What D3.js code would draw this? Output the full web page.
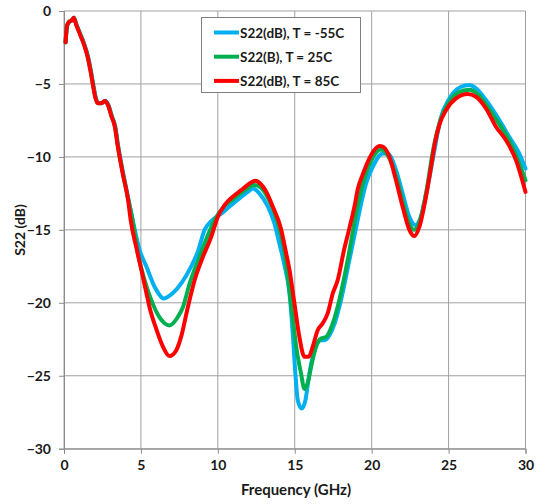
<!DOCTYPE html>
<html>
<head>
<meta charset="utf-8">
<script src="https://cdn.jsdelivr.net/npm/d3@7"></script>
<style>
  body { margin: 0; background: #fff; }
  text { font-family: Lato, "Open Sans", sans-serif; font-weight: bold; fill: #1a1a1a; }
</style>
</head>
<body>
<svg id="vis-svg"></svg>
<script>
// values
var seriesNames = ["S22(dB), T = -55C", "S22(B), T = 25C", "S22(dB), T = 85C"];
var seriesColors = ["#00B0F0", "#00B050", "#FF0000"];

var freqM55 = [0.1, 0.2, 0.35, 0.5, 0.65, 0.82, 1.03, 1.33, 1.58, 1.76, 1.91, 2.07, 2.23, 2.46, 2.67, 2.89, 3.11, 3.33,
  3.53, 3.86, 4.19, 4.5, 4.92, 5.35, 5.89, 6.2, 6.45, 7.08, 7.69, 8.27, 8.7, 9.14, 9.57, 10.22, 10.76, 11.4, 11.95, 12.27,
  12.7, 13.25, 13.68, 14.0, 14.35, 14.66, 14.87, 15.04, 15.2, 15.45, 15.69, 15.95, 16.28, 16.6, 16.93, 17.27, 17.6, 18.01,
  18.55, 19.09, 19.4, 19.64, 20.07, 20.72, 21.04, 21.58, 22.01, 22.45, 22.84, 23.2, 23.64, 24.07, 24.5, 25.0, 25.27, 25.81,
  26.35, 26.78, 27.43, 28.3, 28.94, 29.59, 30.0];
var s22M55 = [-2.15, -1.0, -0.72, -0.65, -0.46, -0.96, -1.5, -2.3, -3.2, -4.16, -5.07, -5.95, -6.3, -6.3, -6.15, -6.45, -7.2, -7.9,
  -9.3, -11.2, -12.9, -14.5, -16.4, -17.5, -18.9, -19.45, -19.7, -19.32, -18.56, -17.5, -16.5, -15.0, -14.4, -13.9, -13.4, -12.85, -12.4, -12.16,
  -12.5, -13.4, -14.56, -15.93, -17.5, -19.36, -22.1, -24.85, -26.7, -27.25, -26.7, -24.85, -23.25, -22.56, -22.56, -22.2, -21.4, -19.8,
  -17.08, -14.33, -12.8, -11.8, -10.68, -9.76, -9.76, -10.9, -12.5, -14.1, -14.68, -14.1, -12.05, -9.6, -7.3, -6.1, -5.65, -5.19,
  -5.07, -5.3, -6.1, -7.48, -8.62, -9.76, -10.8];

var freq25 = [0.1, 0.2, 0.35, 0.5, 0.64, 0.81, 1.01, 1.31, 1.56, 1.74, 1.89, 2.05, 2.21, 2.44, 2.65, 2.87, 3.09, 3.31,
  3.51, 3.84, 4.17, 4.45, 4.8, 5.2, 5.67, 6.21, 6.86, 7.4, 7.73, 8.16, 8.81, 9.3, 9.8, 10.4, 11.0, 11.6, 12.38, 12.8,
  13.3, 13.8, 14.3, 14.83, 15.13, 15.41, 15.63, 15.84, 16.06, 16.39, 16.71, 17.04, 17.47, 17.9, 18.44, 18.99, 19.5, 20.0,
  20.6, 21.1, 21.6, 22.0, 22.45, 22.77, 23.1, 23.55, 24.0, 24.5, 25.0, 25.6, 26.35, 26.9, 27.5, 28.2, 28.8, 29.4, 30.0];
var s2225 = [-2.15, -1.0, -0.72, -0.65, -0.46, -0.96, -1.5, -2.3, -3.2, -4.16, -5.07, -5.95, -6.33, -6.33, -6.17, -6.45, -7.2, -7.9,
  -9.3, -11.2, -12.9, -14.3, -16.6, -18.3, -19.8, -21.0, -21.55, -20.97, -20.3, -18.7, -16.85, -15.5, -14.3, -13.4, -12.9, -12.4, -11.93, -12.1,
  -12.9, -14.2, -16.3, -20.73, -23.25, -24.85, -25.9, -25.5, -24.4, -23.0, -22.45, -22.34, -21.42, -19.8, -17.08, -13.9, -11.6, -10.2,
  -9.5, -10.0, -11.4, -13.0, -14.6, -15.0, -14.5, -12.4, -9.5, -7.4, -6.3, -5.6, -5.39, -5.7, -6.5, -7.6, -8.6, -9.9, -11.6];

var freq85 = [0.1, 0.2, 0.35, 0.5, 0.63, 0.8, 1.0, 1.3, 1.55, 1.73, 1.88, 2.04, 2.2, 2.43, 2.64, 2.86, 3.08, 3.3,
  3.5, 3.83, 4.16, 4.33, 4.7, 5.02, 5.35, 5.56, 6.0, 6.43, 6.86, 7.3, 7.62, 8.05, 8.49, 9.03, 9.57, 10.0, 10.44, 10.97,
  11.52, 12.06, 12.45, 12.71, 13.2, 13.57, 14.1, 14.44, 14.66, 14.98, 15.3, 15.63, 15.91, 16.17, 16.49, 16.82, 17.14, 17.47,
  17.79, 18.2, 18.55, 18.9, 19.1, 19.42, 19.96, 20.5, 20.72, 21.15, 21.58, 22.01, 22.45, 22.77, 23.1, 23.53, 23.86, 24.1,
  24.4, 24.84, 25.48, 26.23, 26.78, 27.43, 28.08, 28.73, 29.38, 30.0];
var s2285 = [-2.15, -1.0, -0.72, -0.65, -0.46, -0.96, -1.5, -2.3, -3.2, -4.16, -5.07, -5.95, -6.33, -6.33, -6.17, -6.45, -7.2, -7.9,
  -9.3, -11.2, -12.9, -14.3, -16.2, -17.7, -19.3, -20.3, -21.8, -23.0, -23.65, -23.25, -22.3, -20.3, -18.45, -16.85, -15.48, -14.1, -13.3, -12.73,
  -12.28, -11.82, -11.64, -11.78, -12.5, -13.4, -14.9, -16.6, -17.76, -20.05, -22.34, -23.7, -23.7, -23.0, -21.88, -21.4, -20.73, -19.36,
  -18.45, -16.4, -14.9, -13.3, -12.2, -11.2, -9.88, -9.26, -9.3, -9.99, -11.6, -13.4, -15.0, -15.43, -14.8, -12.73, -10.68, -9.1,
  -7.8, -6.79, -5.99, -5.69, -5.88, -6.67, -7.93, -8.85, -10.22, -12.4];

var xTicks = [0, 5, 10, 15, 20, 25, 30];
var yTicks = [0, -5, -10, -15, -20, -25, -30];

var width = 545;
var height = 504;
var margin = { top: 11, right: 20, bottom: 55, left: 64 };

var svg = d3.select('#vis-svg')
  .attr('width', width)
  .attr('height', height);

var xScale = d3.scaleLinear()
  .domain([0, 30])
  .range([margin.left, 525.5]);

var yScale = d3.scaleLinear()
  .domain([-30, 0])
  .range([448.7, margin.top]);

// grid
svg.append('g').selectAll('line')
  .data(xTicks)
  .enter()
  .append('line')
  .attr('x1', function(d){return xScale(d);})
  .attr('x2', function(d){return xScale(d);})
  .attr('y1', yScale(0))
  .attr('y2', yScale(-30))
  .attr('stroke', '#a0a0a0')
  .attr('stroke-width', 1);

svg.append('g').selectAll('line')
  .data(yTicks)
  .enter()
  .append('line')
  .attr('x1', xScale(0))
  .attr('x2', xScale(30))
  .attr('y1', function(d){return yScale(d);})
  .attr('y2', function(d){return yScale(d);})
  .attr('stroke', '#a0a0a0')
  .attr('stroke-width', 1);

// axes
var xAxis = svg.append('g')
  .attr('transform', `translate(0,${yScale(-30)})`)
  .call(d3.axisBottom(xScale).tickValues(xTicks).tickSize(5).tickPadding(6));

var yAxis = svg.append('g')
  .attr('transform', `translate(${xScale(0)},0)`)
  .call(d3.axisLeft(yScale).tickValues(yTicks).tickSize(5).tickPadding(8));

[xAxis, yAxis].forEach(function(a) {
  a.select('.domain').attr('stroke', '#8c8c8c');
  a.selectAll('.tick line').attr('stroke', '#8c8c8c');
  a.selectAll('.tick text')
    .style('font-family', 'Lato, "Open Sans", sans-serif')
    .style('font-weight', 'bold')
    .style('font-size', '14px')
    .attr('fill', '#1a1a1a');
});

// axis titles
svg.append('text')
  .attr('x', 296)
  .attr('y', 495)
  .attr('text-anchor', 'middle')
  .style('font-size', '15px')
  .text('Frequency (GHz)');

svg.append('text')
  .attr('transform', 'translate(25,230) rotate(-90)')
  .attr('text-anchor', 'middle')
  .style('font-size', '14px')
  .text('S22 (dB)');

// curves
var series = [
  { name: seriesNames[0], color: seriesColors[0], f: freqM55, v: s22M55 },
  { name: seriesNames[1], color: seriesColors[1], f: freq25, v: s2225 },
  { name: seriesNames[2], color: seriesColors[2], f: freq85, v: s2285 }
];

var line = d3.line()
  .x(function(d){return xScale(d[0]);})
  .y(function(d){return yScale(d[1]);})
  .curve(d3.curveMonotoneX);

series.forEach(function(s) {
  svg.append('path')
    .datum(d3.zip(s.f, s.v))
    .attr('d', line)
    .attr('fill', 'none')
    .attr('stroke', s.color)
    .attr('stroke-width', 4)
    .attr('stroke-linejoin', 'round')
    .attr('stroke-linecap', 'round');
});

// legend
var legend = svg.append('g');
legend.append('rect')
  .attr('x', 201.5)
  .attr('y', 17.5)
  .attr('width', 159)
  .attr('height', 75)
  .attr('fill', '#fff')
  .attr('stroke', '#7f7f7f')
  .attr('stroke-width', 1);

var rows = legend.selectAll('g.row')
  .data(series)
  .enter()
  .append('g')
  .attr('transform', function(d, i){return `translate(0,${32.5 + i * 24.2})`;});

rows.append('line')
  .attr('x1', 214)
  .attr('x2', 239)
  .attr('stroke', function(d){return d.color;})
  .attr('stroke-width', 4);

rows.append('text')
  .attr('x', 240)
  .attr('y', 5)
  .style('font-size', '13.5px')
  .text(function(d){return d.name;});
</script>
</body>
</html>
